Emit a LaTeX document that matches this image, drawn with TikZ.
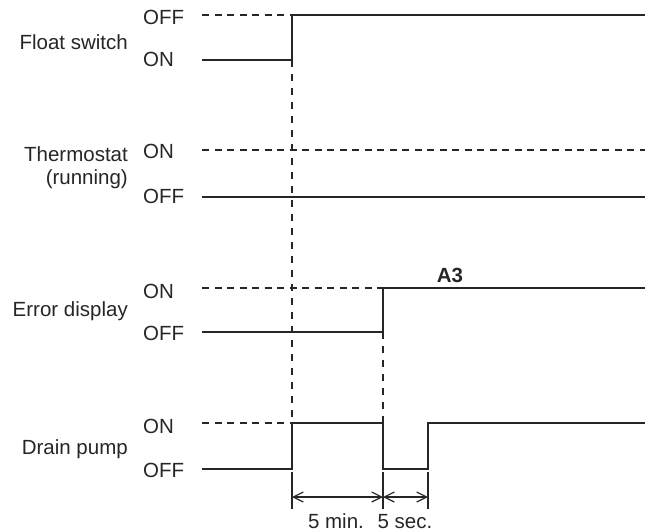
\documentclass[tikz,border=0pt]{standalone}
\usepackage{fontspec}
\setmainfont{Liberation Sans}
\usetikzlibrary{arrows.meta}
\begin{document}
\begin{tikzpicture}[x=1pt,y=-1pt,
  txt/.style={font=\fontsize{20.5}{23}\selectfont, text=black!85, inner sep=0pt},
  sname/.style={txt, anchor=base east},
  lvl/.style={txt, anchor=base west},
  sig/.style={line width=1.5pt, draw=black!85},
  refl/.style={line width=1.2pt, draw=black!85, dash pattern=on 7pt off 5.5pt},
  guide/.style={line width=1.2pt, draw=black!85, dash pattern=on 7pt off 7pt},
  tickl/.style={line width=1.2pt, draw=black!85},
  dimarrow/.style={line width=1.2pt, draw=black!85, {Straight Barb[length=10pt,width=10pt]}-{Straight Barb[length=10pt,width=10pt]}}
]
\useasboundingbox (0,0) rectangle (645,532);

% ---- signal names
\node[sname] (nfs) at (128,49.5) {Float switch};
\node[sname] (nth) at (128,161) {Thermostat};
\node[sname] (nth2) at (128,184) {(running)};
\node[sname] (ned) at (128,316) {Error display};
\node[sname] (ndp) at (128,454) {Drain pump};

% ---- level labels
\node[lvl] (lfsoff) at (143,25) {OFF};
\node[lvl] (lfson) at (143,67) {ON};
\node[lvl] (lthon) at (143,158) {ON};
\node[lvl] (lthoff) at (143,203) {OFF};
\node[lvl] (ledon) at (143,298) {ON};
\node[lvl] (ledoff) at (143,340) {OFF};
\node[lvl] (ldpon) at (143,433) {ON};
\node[lvl] (ldpoff) at (143,477) {OFF};

% ---- coordinates
% float switch
\coordinate (fsH0) at (202,15);
\coordinate (fsH1) at (292,15);
\coordinate (fsHE) at (645,15);
\coordinate (fsL0) at (202,60);
\coordinate (fsL1) at (292,60);
% thermostat
\coordinate (thH0) at (202,150);
\coordinate (thHE) at (645,150);
\coordinate (thL0) at (202,197);
\coordinate (thLE) at (645,197);
% error display
\coordinate (edH0) at (202,288);
\coordinate (edH1) at (383,288);
\coordinate (edHE) at (645,288);
\coordinate (edL0) at (202,332);
\coordinate (edL1) at (383,332);
% drain pump
\coordinate (dpH0) at (202,423);
\coordinate (dpH1) at (292,423);
\coordinate (dpH2) at (383,423);
\coordinate (dpH3) at (428,423);
\coordinate (dpHE) at (645,423);
\coordinate (dpL0) at (202,469);
\coordinate (dpL1) at (292,469);
\coordinate (dpL2) at (383,469);
\coordinate (dpL3) at (428,469);
% ticks
\coordinate (tk1a) at (292,472);
\coordinate (tk1b) at (292,509);
\coordinate (tk2a) at (383,472);
\coordinate (tk2b) at (383,509);
\coordinate (tk3a) at (428,472);
\coordinate (tk3b) at (428,509);
\coordinate (ar1) at (292,497);
\coordinate (ar2) at (383,497);
\coordinate (ar3) at (428,497);

% ---- dashed reference levels
\draw[refl] (fsH0) -- (fsH1);
\draw[refl] (thH0) -- (thHE);
\draw[refl] (edH0) -- (edH1);
\draw[refl] (dpH0) -- (dpH1);

% ---- guide lines
\draw[guide] (fsL1) -- (dpH1);
\draw[guide] (edL1) -- (dpH2);

% ---- waveforms
\draw[sig] (fsL0) -- (fsL1) -- (fsH1) -- (fsHE);
\draw[sig] (thL0) -- (thLE);
\draw[sig] (edL0) -- (edL1) -- (edH1) -- (edHE);
\draw[sig] (dpL0) -- (dpL1) -- (dpH1) -- (dpH2) -- (dpL2) -- (dpL3) -- (dpH3) -- (dpHE);

% ---- A3
\node[txt, font=\fontsize{20.5}{23}\selectfont\bfseries, anchor=base] (a3) at (450,282) {A3};

% ---- time dimensions
\draw[tickl] (tk1a) -- (tk1b);
\draw[tickl] (tk2a) -- (tk2b);
\draw[tickl] (tk3a) -- (tk3b);
\draw[dimarrow] (ar1) -- (ar2);
\draw[dimarrow] (ar2) -- (ar3);
\node[txt, anchor=base] (t5m) at (336,528) {5 min.};
\node[txt, anchor=base] (t5s) at (405,528) {5 sec.};
\end{tikzpicture}
\end{document}
